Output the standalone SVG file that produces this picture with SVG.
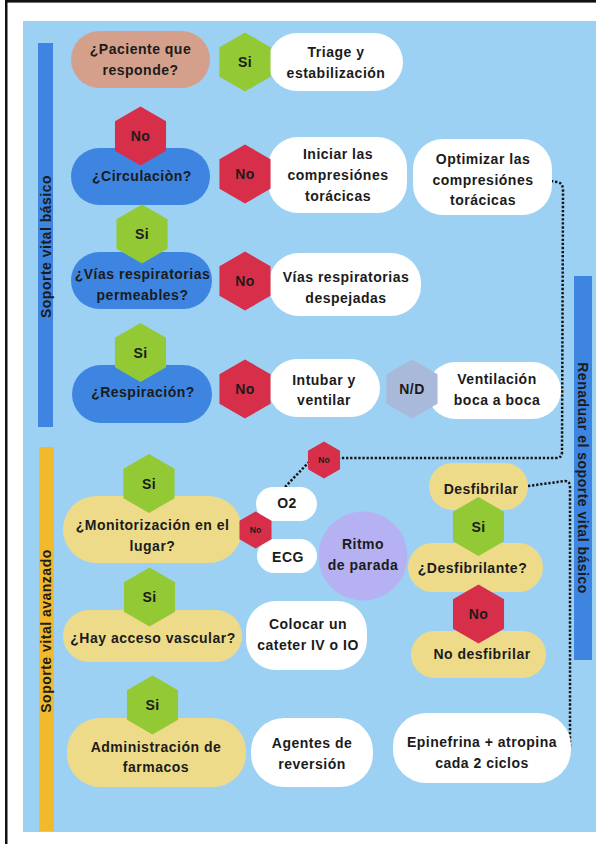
<svg xmlns="http://www.w3.org/2000/svg" width="596" height="844" viewBox="0 0 596 844">
  <style>
    .t { font-family: "Liberation Sans", Arial, sans-serif; font-weight: bold; font-size: 14px; letter-spacing: 0.5px; fill: #1b1b1b; text-anchor: middle; }
    .ts { font-family: "Liberation Sans", Arial, sans-serif; font-weight: bold; font-size: 8.5px; fill: #1b1b1b; text-anchor: middle; }
    .white { fill: #ffffff; }
    .blue { fill: #3d85e0; }
    .yellow { fill: #eedb8a; }
    .salmon { fill: #d4a08c; }
    .green { fill: #92c935; }
    .red { fill: #d72f4a; }
    .nd { fill: #a9b9da; }
    .purple { fill: #b6b1f2; }
    .dots { fill: none; stroke: #141414; stroke-width: 2.5; stroke-dasharray: 2.3 1.8; }
  </style>
  <defs>
    <polygon id="hex" points="0,-29.5 25.55,-14.75 25.55,14.75 0,29.5 -25.55,14.75 -25.55,-14.75"/>
    <polygon id="hexs" points="0,-18.5 16.02,-9.25 16.02,9.25 0,18.5 -16.02,9.25 -16.02,-9.25"/>
  </defs>

  <!-- page frame and background -->
  <rect x="0" y="0" width="596" height="844" fill="#ffffff"/>
  <rect x="5" y="0" width="2.5" height="844" fill="#111111"/>
  <rect x="5" y="0" width="591" height="2.6" fill="#111111"/>
  <rect x="23" y="21" width="573" height="811" fill="#9cd1f4"/>

  <!-- section bars -->
  <g id="bar-basico">
    <rect x="38" y="43" width="15" height="384" fill="#3d85e0"/>
    <text class="t" transform="translate(50.5 246.5) rotate(-90)">Soporte vital básico</text>
  </g>
  <g id="bar-avanzado">
    <rect x="39" y="447" width="15" height="384" fill="#f3b92c"/>
    <text class="t" transform="translate(51 631) rotate(-90)">Soporte vital avanzado</text>
  </g>
  <g id="bar-renaduar">
    <rect x="574" y="276" width="18" height="384" fill="#3d85e0"/>
    <text class="t" transform="translate(578 478) rotate(90)">Renaduar el soporte vital básico</text>
  </g>

  <!-- connectors -->
  <g id="connectors">
    <path class="dots" d="M551 181 L557 182 Q563 183 563 190 L562 452 Q562 458 556 458 L340 458"/>
    <path class="dots" d="M285 487 L309 462"/>
    <path class="dots" d="M528 486 L565 481 Q570 481 570 487 L570 748"/>
  </g>

  <!-- basic life support -->
  <g id="paciente">
    <rect class="salmon" x="71" y="31" width="139" height="57" rx="28.5"/>
    <text class="t" x="140.5" y="54">¿Paciente que</text>
    <text class="t" x="140.5" y="75">responde?</text>
  </g>
  <g id="triage">
    <rect class="white" x="268" y="33" width="135" height="58" rx="29"/>
    <text class="t" x="336" y="57">Triage y</text>
    <text class="t" x="336" y="78">estabilización</text>
  </g>
  <g id="si-triage">
    <use href="#hex" class="green" x="245" y="62"/>
    <text class="t" x="245" y="67">Si</text>
  </g>

  <g id="circulacion">
    <rect class="blue" x="71" y="148" width="139" height="57" rx="28.5"/>
    <text class="t" x="142" y="181">¿Circulaciòn?</text>
  </g>
  <g id="no-circulacion-top">
    <use href="#hex" class="red" x="140.5" y="136"/>
    <text class="t" x="140.5" y="141">No</text>
  </g>
  <g id="iniciar">
    <rect class="white" x="268" y="137" width="139" height="76" rx="30"/>
    <text class="t" x="338" y="159">Iniciar las</text>
    <text class="t" x="338" y="180">compresiónes</text>
    <text class="t" x="338" y="201">torácicas</text>
  </g>
  <g id="no-circulacion">
    <use href="#hex" class="red" x="245" y="174"/>
    <text class="t" x="245" y="179">No</text>
  </g>
  <g id="optimizar">
    <rect class="white" x="413" y="139" width="139" height="76" rx="30"/>
    <text class="t" x="483" y="164">Optimizar las</text>
    <text class="t" x="483" y="185">compresiónes</text>
    <text class="t" x="483" y="205">torácicas</text>
  </g>

  <g id="vias">
    <rect class="blue" x="71" y="252" width="141" height="57" rx="28.5"/>
    <text class="t" x="142.5" y="279">¿Vías respiratorias</text>
    <text class="t" x="142.5" y="300">permeables?</text>
  </g>
  <g id="si-vias">
    <use href="#hex" class="green" x="142" y="234"/>
    <text class="t" x="142" y="239">Si</text>
  </g>
  <g id="despejadas">
    <rect class="white" x="269" y="253" width="152" height="63" rx="30"/>
    <text class="t" x="346" y="282">Vías respiratorias</text>
    <text class="t" x="346" y="303">despejadas</text>
  </g>
  <g id="no-vias">
    <use href="#hex" class="red" x="245" y="281"/>
    <text class="t" x="245" y="286">No</text>
  </g>

  <g id="respiracion">
    <rect class="blue" x="72" y="365" width="140" height="58" rx="29"/>
    <text class="t" x="143" y="397">¿Respiración?</text>
  </g>
  <g id="si-respiracion">
    <use href="#hex" class="green" x="140.5" y="352.5"/>
    <text class="t" x="140.5" y="357.5">Si</text>
  </g>
  <g id="intubar">
    <rect class="white" x="268" y="359" width="112" height="58" rx="29"/>
    <text class="t" x="324" y="385">Intubar y</text>
    <text class="t" x="324" y="405">ventilar</text>
  </g>
  <g id="no-respiracion">
    <use href="#hex" class="red" x="245" y="389"/>
    <text class="t" x="245" y="394">No</text>
  </g>
  <g id="ventilacion">
    <rect class="white" x="427" y="362" width="134" height="57" rx="28.5"/>
    <text class="t" x="497" y="384">Ventilación</text>
    <text class="t" x="497" y="405">boca a boca</text>
  </g>
  <g id="nd">
    <use href="#hex" class="nd" x="412" y="389"/>
    <text class="t" x="412" y="394">N/D</text>
  </g>

  <!-- advanced life support -->
  <g id="monitorizacion">
    <rect class="yellow" x="63" y="496" width="179" height="67" rx="33.5"/>
    <text class="t" x="152.5" y="530">¿Monitorización en el</text>
    <text class="t" x="152.5" y="551">lugar?</text>
  </g>
  <g id="si-monitorizacion">
    <use href="#hex" class="green" x="149" y="483.5"/>
    <text class="t" x="149" y="488.5">Si</text>
  </g>
  <g id="o2">
    <rect class="white" x="256" y="487" width="61" height="34" rx="17"/>
    <text class="t" x="287" y="508">O2</text>
  </g>
  <g id="ecg">
    <rect class="white" x="257" y="539" width="60" height="34" rx="17"/>
    <text class="t" x="288" y="562">ECG</text>
  </g>
  <g id="no-monitorizacion">
    <use href="#hexs" class="red" x="255.5" y="530"/>
    <text class="ts" x="255.5" y="533">No</text>
  </g>
  <g id="no-o2">
    <use href="#hexs" class="red" x="324" y="460"/>
    <text class="ts" x="324" y="463">No</text>
  </g>
  <g id="ritmo">
    <circle class="purple" cx="363" cy="556" r="44.5"/>
    <text class="t" x="363" y="549">Ritmo</text>
    <text class="t" x="363" y="570">de parada</text>
  </g>

  <g id="desfibrilar">
    <rect class="yellow" x="429" y="463" width="99" height="47" rx="23.5"/>
    <text class="t" x="481" y="494">Desfibrilar</text>
  </g>
  <g id="desfibrilante">
    <rect class="yellow" x="408" y="543" width="135" height="49" rx="24.5"/>
    <text class="t" x="472.5" y="573">¿Desfibrilante?</text>
  </g>
  <g id="si-desfibrilante">
    <use href="#hex" class="green" x="478.5" y="526.5"/>
    <text class="t" x="478.5" y="531.5">Si</text>
  </g>
  <g id="no-desfibrilar">
    <rect class="yellow" x="411" y="631" width="135" height="47" rx="23.5"/>
    <text class="t" x="482" y="659">No desfibrilar</text>
  </g>
  <g id="no-desfibrilante">
    <use href="#hex" class="red" x="478.5" y="614"/>
    <text class="t" x="478.5" y="619">No</text>
  </g>

  <g id="acceso">
    <rect class="yellow" x="63" y="610" width="179" height="52" rx="26"/>
    <text class="t" x="153" y="643">¿Hay acceso vascular?</text>
  </g>
  <g id="si-acceso">
    <use href="#hex" class="green" x="149.5" y="597"/>
    <text class="t" x="149.5" y="602">Si</text>
  </g>
  <g id="cateter">
    <rect class="white" x="246" y="601" width="121" height="69" rx="30"/>
    <text class="t" x="308" y="629">Colocar un</text>
    <text class="t" x="308" y="650">cateter IV o IO</text>
  </g>

  <g id="farmacos">
    <rect class="yellow" x="67" y="718" width="179" height="69" rx="33"/>
    <text class="t" x="156" y="752">Administración de</text>
    <text class="t" x="156" y="772">farmacos</text>
  </g>
  <g id="si-farmacos">
    <use href="#hex" class="green" x="152.5" y="705"/>
    <text class="t" x="152.5" y="710">Si</text>
  </g>
  <g id="reversion">
    <rect class="white" x="251" y="718" width="122" height="69" rx="33"/>
    <text class="t" x="312" y="748">Agentes de</text>
    <text class="t" x="312" y="769">reversión</text>
  </g>
  <g id="epinefrina">
    <rect class="white" x="393" y="713" width="178" height="70" rx="33"/>
    <text class="t" x="482" y="747">Epinefrina + atropina</text>
    <text class="t" x="482" y="768">cada 2 ciclos</text>
  </g>
</svg>
